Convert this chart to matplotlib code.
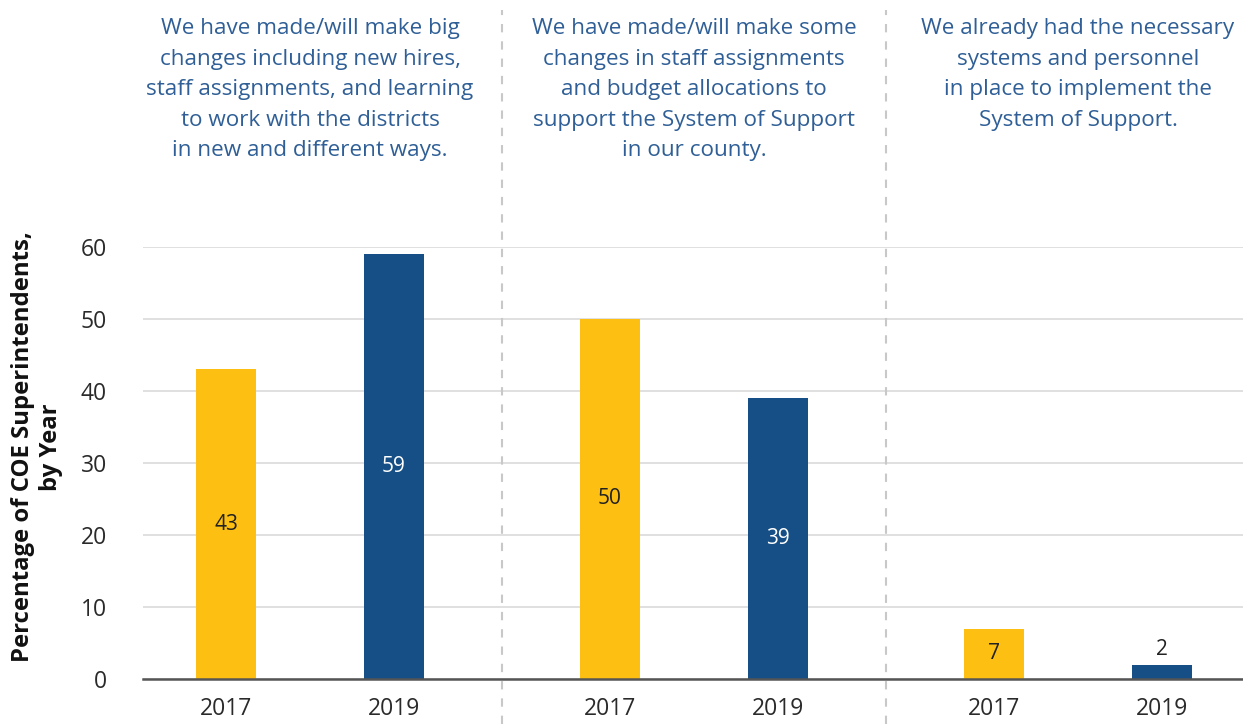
import matplotlib.pyplot as plt
import numpy as np

# survey responses, percentage of COE superintendents
groups = [
    "We have made/will make big\nchanges including new hires,\nstaff assignments, and learning\nto work with the districts\nin new and different ways.",
    "We have made/will make some\nchanges in staff assignments\nand budget allocations to\nsupport the System of Support\nin our county.",
    "We already had the necessary\nsystems and personnel\nin place to implement the\nSystem of Support.",
]
years = ["2017", "2019"]
vals_2017 = [43, 50, 7]
vals_2019 = [59, 39, 2]

gold = "#FCBF12"
blue = "#154F85"
text_blue = "#2F5F96"
dark = "#2a2a2a"

plt.rcParams['font.family'] = ['Open Sans', 'DejaVu Sans']

fig = plt.figure(figsize=(12.43, 7.24), dpi=100)
ax = fig.add_axes([143 / 1243, 1 - 679 / 724, 1100 / 1243, (679 - 247) / 724])

x = np.arange(len(groups))
off = 84 / 384
w = 60 / 384

b1 = ax.bar(x - off, vals_2017, width=w, color=gold, zorder=3)
b2 = ax.bar(x + off, vals_2019, width=w, color=blue, zorder=3)

# value labels
for rect, v in zip(b1, vals_2017):
    ax.text(rect.get_x() + w / 2, v / 2, str(v), ha='center', va='center',
            fontsize=15, color='#222222', zorder=4)
for rect, v in zip(b2, vals_2019):
    if v < 5:
        ax.text(rect.get_x() + w / 2, v + 0.6, str(v), ha='center', va='bottom',
                fontsize=15, color='#222222', zorder=4)
    else:
        ax.text(rect.get_x() + w / 2, v / 2, str(v), ha='center', va='center',
                fontsize=15, color='white', zorder=4)

ax.set_xlim((143 - 310) / 384, (1243 - 310) / 384)
ax.set_ylim(0, 60)
ax.set_yticks(range(0, 61, 10))
ax.yaxis.grid(True, color='#dddddd', lw=1.3, zorder=0)
ax.set_axisbelow(True)

ax.set_xticks(np.concatenate([x - off, x + off]))
ax.set_xticklabels([years[0]] * 3 + [years[1]] * 3)
ax.tick_params(axis='x', length=0, pad=13, labelsize=16.5, labelcolor=dark)
ax.tick_params(axis='y', length=0, pad=26, labelsize=16.5, labelcolor=dark)

for s in ['top', 'right', 'left']:
    ax.spines[s].set_visible(False)
ax.spines['bottom'].set_color('#555555')
ax.spines['bottom'].set_linewidth(1.8)
ax.spines['bottom'].set_zorder(5)

# dashed separators between groups
for sx in [0.5, 1.5]:
    ax.axvline(sx, ymin=(679 - 724) / 432, ymax=(679 - 10) / 432, color='#c8c8c8',
               lw=1.5, ls=(0, (4, 4.3)), clip_on=False, zorder=1)

# group headers
for i, g in enumerate(groups):
    ax.text(i, 60 + (247 - 18) / 7.2, g, ha='center', va='top', fontsize=16.2,
            color=text_blue, linespacing=1.6)

fig.text(37 / 1243, 1 - 447 / 724, "Percentage of COE Superintendents,\nby Year",
         rotation=90, ha='center', va='center', multialignment='center',
         fontsize=17.2, fontweight='bold', color='#111111', linespacing=1.2)

fig.savefig("out.png", dpi=100)
